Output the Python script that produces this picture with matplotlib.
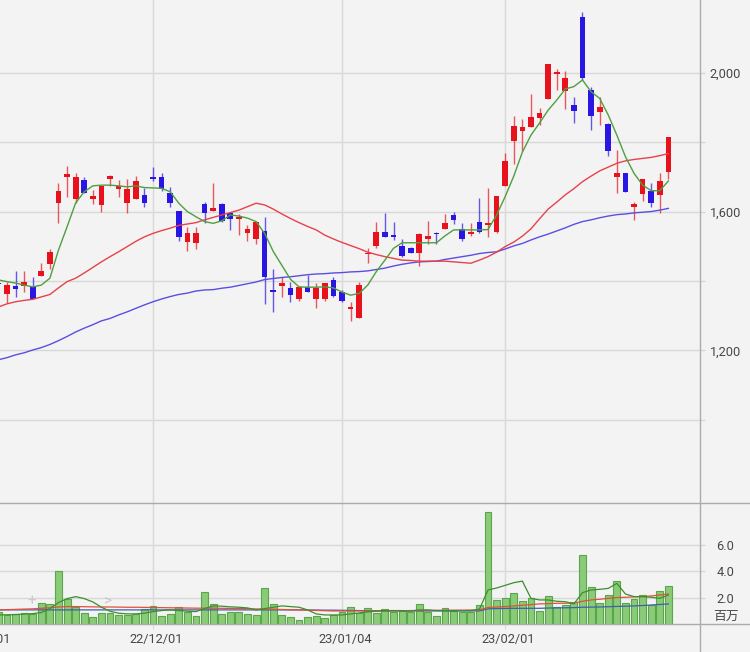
import matplotlib
matplotlib.use("Agg")
import matplotlib.pyplot as plt
import matplotlib.transforms as mtransforms
from matplotlib.lines import Line2D

plt.rcParams['font.family'] = ['Roboto', 'Noto Sans CJK JP', 'DejaVu Sans']

# ---------------- data (trading-day index, 22/11/01 = 0) ----------------
first_index = 2
opens = [1395, 1362, 1385, 1386, 1382, 1414, 1448, 1624, 1699, 1637,
         1691, 1636, 1618, 1695, 1666, 1624, 1637, 1648, 1700, 1700,
         1654, 1602, 1512, 1510, 1621, 1602, 1622, 1597, 1579, 1539,
         1520, 1544, 1374, 1385, 1380, 1349, 1383, 1349, 1349, 1403,
         1369, 1318, 1294, 1478, 1502, 1542, 1532, 1502, 1494, 1480,
         1521, 1537, 1551, 1590, 1550, 1535, 1571, 1561, 1540, 1674,
         1804, 1832, 1843, 1869, 1923, 1996, 1947, 1906, 2161, 1950,
         1886, 1851, 1699, 1712, 1612, 1651, 1660, 1647, 1713]
highs = [1405, 1398, 1429, 1429, 1412, 1453, 1493, 1681, 1732, 1712,
         1700, 1662, 1674, 1706, 1691, 1695, 1702, 1667, 1729, 1710,
         1670, 1602, 1555, 1555, 1628, 1681, 1625, 1600, 1592, 1561,
         1574, 1583, 1434, 1412, 1398, 1385, 1417, 1393, 1393, 1412,
         1374, 1340, 1398, 1494, 1571, 1595, 1571, 1520, 1499, 1537,
         1573, 1542, 1593, 1598, 1568, 1566, 1638, 1667, 1646, 1768,
         1875, 1867, 1939, 1897, 2025, 2010, 2006, 1931, 2174, 1960,
         1931, 1854, 1777, 1712, 1627, 1694, 1683, 1710, 1816]
lows = [1380, 1336, 1355, 1369, 1349, 1414, 1434, 1566, 1643, 1624,
        1652, 1621, 1600, 1674, 1643, 1597, 1637, 1612, 1689, 1660,
        1612, 1516, 1487, 1491, 1568, 1602, 1571, 1547, 1532, 1516,
        1506, 1334, 1311, 1355, 1340, 1343, 1369, 1321, 1343, 1355,
        1339, 1285, 1294, 1451, 1494, 1526, 1518, 1468, 1480, 1443,
        1506, 1506, 1550, 1563, 1515, 1530, 1537, 1527, 1537, 1674,
        1737, 1775, 1843, 1849, 1923, 1950, 1894, 1856, 1979, 1835,
        1849, 1760, 1654, 1655, 1576, 1630, 1614, 1595, 1694]
closes = [1390, 1388, 1376, 1396, 1349, 1429, 1483, 1660, 1709, 1700,
          1654, 1645, 1674, 1702, 1674, 1666, 1688, 1624, 1693, 1664,
          1625, 1526, 1539, 1539, 1597, 1611, 1574, 1578, 1583, 1550,
          1569, 1412, 1369, 1393, 1359, 1383, 1369, 1379, 1393, 1357,
          1343, 1326, 1388, 1481, 1540, 1527, 1526, 1472, 1481, 1535,
          1530, 1534, 1566, 1576, 1520, 1540, 1540, 1566, 1646, 1746,
          1846, 1843, 1873, 1885, 2025, 2003, 1986, 1890, 1984, 1876,
          1902, 1775, 1712, 1655, 1621, 1694, 1624, 1689, 1816]
ma5 = [1403, 1398, 1394, 1388, 1383, 1388, 1408, 1489, 1556, 1625,
       1657, 1674, 1676, 1676, 1674, 1671, 1674, 1669, 1668, 1667,
       1657, 1624, 1600, 1585, 1571, 1566, 1573, 1590, 1587, 1581,
       1571, 1537, 1485, 1445, 1405, 1383, 1382, 1382, 1383, 1380,
       1368, 1359, 1364, 1388, 1427, 1460, 1494, 1510, 1510, 1510,
       1510, 1510, 1530, 1547, 1547, 1547, 1547, 1548, 1590, 1643,
       1702, 1771, 1820, 1855, 1892, 1921, 1953, 1960, 1979, 1945,
       1926, 1878, 1820, 1758, 1710, 1676, 1660, 1660, 1688]
ma25 = [1325, 1334, 1340, 1344, 1347, 1354, 1361, 1380, 1398, 1408,
        1423, 1439, 1455, 1470, 1484, 1499, 1514, 1527, 1537, 1545,
        1552, 1560, 1564, 1568, 1576, 1583, 1590, 1597, 1604, 1614,
        1624, 1619, 1607, 1593, 1580, 1568, 1557, 1547, 1532, 1521,
        1511, 1502, 1493, 1483, 1476, 1470, 1465, 1460, 1459, 1457,
        1457, 1457, 1457, 1455, 1453, 1451, 1460, 1470, 1483, 1499,
        1512, 1529, 1550, 1579, 1607, 1627, 1648, 1666, 1686, 1702,
        1717, 1728, 1739, 1746, 1750, 1753, 1756, 1761, 1767]
ma75 = [1173, 1179, 1187, 1193, 1201, 1208, 1217, 1228, 1240, 1253,
        1264, 1274, 1285, 1292, 1302, 1311, 1321, 1331, 1340, 1348,
        1355, 1361, 1365, 1371, 1374, 1375, 1379, 1382, 1387, 1392,
        1397, 1404, 1407, 1410, 1412, 1415, 1418, 1420, 1421, 1423,
        1424, 1426, 1427, 1429, 1433, 1437, 1443, 1448, 1452, 1455,
        1456, 1457, 1462, 1466, 1470, 1474, 1479, 1482, 1484, 1492,
        1501, 1508, 1518, 1527, 1535, 1544, 1553, 1563, 1571, 1576,
        1582, 1587, 1591, 1593, 1596, 1598, 1600, 1604, 1609]
volume = [0.97, 0.72, 0.80, 0.85, 0.80, 1.65, 1.55, 4.00, 1.92, 1.35,
          0.90, 0.60, 0.85, 0.85, 0.72, 0.72, 0.80, 1.17, 1.40, 0.67,
          0.77, 1.30, 0.92, 0.67, 2.45, 1.57, 0.80, 0.92, 0.92, 0.82,
          0.75, 2.75, 1.55, 0.72, 0.60, 0.35, 0.57, 0.65, 0.50, 0.72,
          0.95, 1.30, 0.85, 1.27, 0.90, 1.15, 0.97, 1.02, 0.92, 1.55,
          0.92, 0.65, 1.22, 1.02, 0.97, 0.97, 1.45, 8.47, 1.85, 2.02,
          2.37, 1.77, 1.97, 1.05, 2.12, 1.35, 1.45, 1.72, 5.20, 2.80,
          1.60, 2.20, 3.30, 1.60, 1.90, 2.22, 1.50, 2.52, 2.92]
vol_ma5 = [0.72, 0.73, 0.75, 0.78, 0.82, 0.90, 1.20, 1.65, 1.95, 2.10,
           1.95, 1.70, 1.30, 1.00, 0.85, 0.80, 0.80, 0.85, 0.97, 1.05,
           1.10, 1.05, 1.00, 0.97, 1.20, 1.40, 1.38, 1.33, 1.30, 1.25,
           1.10, 1.20, 1.30, 1.40, 1.35, 1.30, 1.10, 0.80, 0.72, 0.72,
           0.72, 0.80, 0.87, 0.95, 1.00, 1.05, 1.05, 1.05, 1.02, 1.10,
           1.10, 1.05, 1.05, 1.05, 1.05, 1.05, 1.15, 2.60, 2.75, 2.95,
           3.15, 3.27, 1.97, 1.85, 1.85, 1.75, 1.72, 1.55, 2.40, 2.60,
           2.65, 2.72, 3.10, 2.30, 2.10, 2.10, 2.05, 1.97, 2.22]
vol_ma25 = [1.10, 1.12, 1.14, 1.16, 1.18, 1.22, 1.26, 1.32, 1.35, 1.35,
            1.34, 1.33, 1.32, 1.32, 1.31, 1.30, 1.30, 1.29, 1.28, 1.27,
            1.26, 1.25, 1.24, 1.23, 1.23, 1.23, 1.22, 1.21, 1.20, 1.19,
            1.17, 1.16, 1.15, 1.13, 1.11, 1.10, 1.08, 1.06, 1.04, 1.02,
            1.02, 1.02, 1.02, 1.02, 1.02, 1.03, 1.03, 1.04, 1.05, 1.06,
            1.06, 1.07, 1.07, 1.08, 1.08, 1.09, 1.10, 1.28, 1.32, 1.35,
            1.40, 1.45, 1.50, 1.55, 1.57, 1.60, 1.60, 1.62, 1.75, 1.85,
            1.90, 1.97, 2.03, 2.05, 2.08, 2.10, 2.15, 2.22, 2.30]
vol_ma75 = [1.10, 1.10, 1.10, 1.10, 1.10, 1.10, 1.10, 1.10, 1.10, 1.10,
            1.10, 1.10, 1.10, 1.10, 1.10, 1.10, 1.10, 1.10, 1.10, 1.10,
            1.10, 1.10, 1.10, 1.10, 1.10, 1.10, 1.10, 1.10, 1.10, 1.10,
            1.10, 1.10, 1.10, 1.10, 1.10, 1.10, 1.09, 1.09, 1.08, 1.08,
            1.07, 1.06, 1.05, 1.04, 1.03, 1.02, 1.02, 1.02, 1.02, 1.02,
            1.02, 1.02, 1.02, 1.02, 1.02, 1.02, 1.02, 1.18, 1.20, 1.21,
            1.22, 1.22, 1.22, 1.22, 1.24, 1.25, 1.26, 1.27, 1.30, 1.31,
            1.32, 1.34, 1.36, 1.38, 1.40, 1.43, 1.47, 1.51, 1.55]
date_labels = ["22/11/01", "22/12/01", "23/01/04", "23/02/01"]
date_label_index = [0, 20, 42, 61]
price_major = [1200, 1600, 2000]
price_minor = [1000, 1400, 1800]
vol_ticks = [2.0, 4.0, 6.0]
vol_unit = "百万"

# ---------------- style ----------------
BG = "#f3f3f3"
GRID = "#d8d8d8"
AXLINE = "#ababab"
TXT = "#474747"
UP = "#e8121c"
DOWN = "#2a16e2"
C_MA5 = "#4f9f3f"
C_MA25 = "#e8414a"
C_MA75 = "#5a4fe0"
W, H = 750, 652

def fy(py):
    return 1 - py / H

fig = plt.figure(figsize=(W / 100, H / 100), dpi=100, facecolor=BG)
ax = fig.add_axes([0, fy(503.3), 700 / W, 503.3 / H], facecolor=BG)
axv = fig.add_axes([0, fy(624.5), 700 / W, (624.5 - 503.3) / H], facecolor=BG, sharex=ax)

n = len(closes)
xs = [first_index + k for k in range(n)]

# candles
for x, o, h, l, c in zip(xs, opens, highs, lows, closes):
    col = UP if c >= o else DOWN
    ax.vlines(x, l, h, color=col, lw=1.0, alpha=0.7, zorder=3)
    ax.bar(x, max(abs(c - o), 3), bottom=min(o, c), width=0.66, color=col, lw=0, zorder=4)

ax.plot(xs, ma75, color=C_MA75, lw=1.0, zorder=5)
ax.plot(xs, ma25, color=C_MA25, lw=1.0, zorder=5)
ax.plot(xs, ma5, color=C_MA5, lw=1.0, zorder=5)

# volume
axv.bar(xs, volume, width=0.8, color="#8acb77", edgecolor="#5aa64a", lw=0.8, zorder=3)
axv.plot(xs, vol_ma75, color="#3f5fae", lw=0.9, zorder=4)
axv.plot(xs, vol_ma25, color="#e0503a", lw=0.9, zorder=4)
axv.plot(xs, vol_ma5, color="#3e8e2e", lw=0.9, zorder=5)

# axes styling
for a in (ax, axv):
    for s in a.spines.values():
        s.set_visible(False)
    a.yaxis.tick_right()
    a.set_xticks(date_label_index)
    a.grid(True, axis='x', color=GRID, lw=1.0, zorder=0)
    a.set_axisbelow(True)
    a.tick_params(axis='x', labelbottom=False, length=0)

ax.set_yticks(price_major)
ax.set_yticks(price_minor, minor=True)
ax.set_yticklabels([f"{v:,}" for v in price_major])
ax.grid(True, axis='y', which='both', color=GRID, lw=1.0, zorder=0)
ax.tick_params(axis='y', which='both', direction='out', length=3.6, width=1.0,
               color=GRID, labelsize=9.2, labelcolor=TXT, pad=14.8)

axv.set_yticks(vol_ticks)
axv.set_yticklabels([f"{v:.1f}" for v in vol_ticks])
axv.grid(True, axis='y', color=GRID, lw=1.0, zorder=0)
axv.tick_params(axis='y', direction='out', length=3.6, width=1.0,
                color=GRID, labelsize=9.2, labelcolor=TXT, pad=14.8)
axv.tick_params(axis='x', length=3, color=GRID, direction='out')

for lab in ax.get_yticklabels() + axv.get_yticklabels():
    lab.set_horizontalalignment('center')

# limits last (shared x would otherwise autoscale)
ax.set_xlim(2.19, 83.68)
ax.set_ylim(759.4, 2209.4)
axv.set_ylim(0, 9.13)

fig.text(726 / W, fy(616.5), vol_unit, ha='center', va='center', fontsize=9.2,
         color=TXT, family=['Noto Sans CJK JP', 'DejaVu Sans'])

# date labels (the first one is partly outside the figure, as in the reference)
trans = mtransforms.blended_transform_factory(axv.transData, fig.transFigure)
for idx, lab in zip(date_label_index, date_labels):
    axv.text(idx + 0.35, fy(640), lab, transform=trans, ha='center', va='center',
             fontsize=9.2, color=TXT, clip_on=False)

# faint overlay controls in the volume pane
fig.text(32 / W, fy(601.5), "+", ha='center', va='center', fontsize=11, color="#c9c9c9")
fig.text(108 / W, fy(601.5), ">", ha='center', va='center', fontsize=11, color="#c9c9c9")

# separator / axis lines
fig.add_artist(Line2D([0, 1], [fy(503.3), fy(503.3)], color=AXLINE, lw=1.0))
fig.add_artist(Line2D([0, 1], [fy(624.3), fy(624.3)], color=AXLINE, lw=1.0))
fig.add_artist(Line2D([700 / W, 700 / W], [0, 1], color=AXLINE, lw=1.0))

fig.savefig("out.png", dpi=100, facecolor=BG)
